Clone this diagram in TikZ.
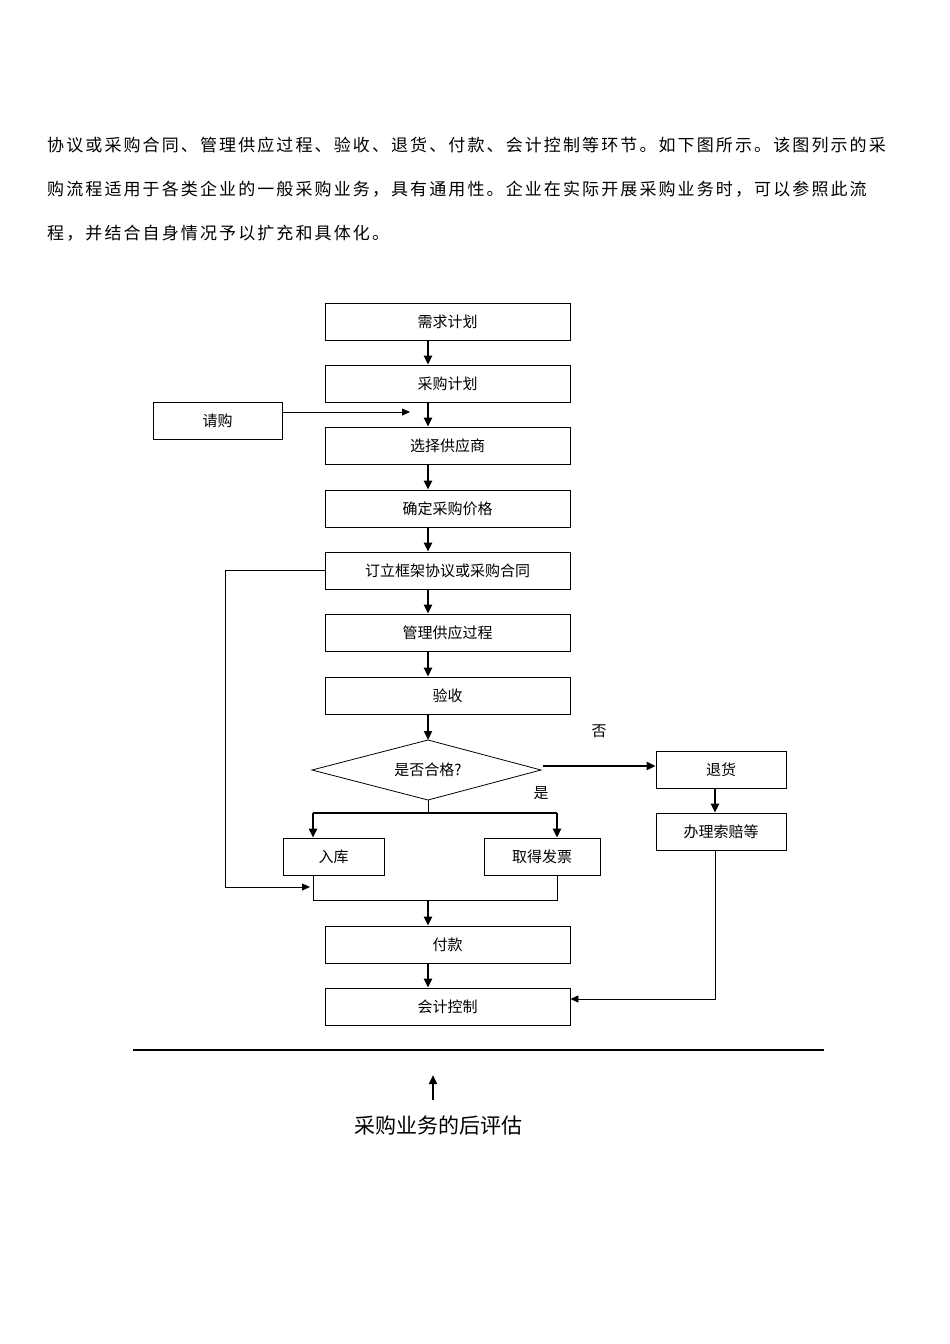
\documentclass[tikz,border=0pt]{standalone}
\usepackage{fontspec}
\newfontfamily\cjk{Noto Sans CJK SC}
\newfontfamily\cjksp[LetterSpace=12.4]{Noto Sans CJK SC}
\usetikzlibrary{arrows.meta}
\begin{document}
\begin{tikzpicture}[x=1pt,y=-1pt,font=\cjk\fontsize{15}{17}\selectfont,
  box/.style={draw,line width=0.8pt,inner sep=0pt},
  ar/.style={-{Triangle[length=9pt,width=8pt]},line width=2.2pt},
  thin/.style={line width=0.8pt},
  tar/.style={-{Triangle[length=8pt,width=7pt]},line width=0.8pt},
  para/.style={anchor=west,inner sep=0pt,font=\cjksp\fontsize{17}{19}\selectfont}]
\useasboundingbox (0,0) rectangle (950,1344);
\node[para] (p1) at (47,145) {协议或采购合同、管理供应过程、验收、退货、付款、会计控制等环节。如下图所示。该图列示的采};
\node[para] (p2) at (47,189) {购流程适用于各类企业的一般采购业务，具有通用性。企业在实际开展采购业务时，可以参照此流};
\node[para] (p3) at (47,233) {程，并结合自身情况予以扩充和具体化。};
\foreach \n/\t/\y in {a/需求计划/321.5,b/采购计划/383.5,c/选择供应商/445.5,d/确定采购价格/508.5,e/订立框架协议或采购合同/570.5,f/管理供应过程/632.5,g/验收/695.5,pay/付款/944.5,acc/会计控制/1006.5}
  \node[box,minimum width=245pt,minimum height=37pt] (\n) at (447.5,\y) {\t};
\node[box,minimum width=129pt,minimum height=37pt] (req) at (217.5,420.5) {请购};
\node[box,minimum width=130pt,minimum height=37pt] (ret) at (721,769.5) {退货};
\node[box,minimum width=130pt,minimum height=37pt] (clm) at (721,831.5) {办理索赔等};
\node[box,minimum width=101pt,minimum height=37pt] (in) at (333.5,856.5) {入库};
\node[box,minimum width=116pt,minimum height=37pt] (inv) at (542,856.5) {取得发票};
\coordinate (dL) at (312,770); \coordinate (dR) at (541,770);
\coordinate (dT) at (428,740); \coordinate (dB) at (428,800);
\draw[thin] (dL)--(dT)--(dR)--(dB)--cycle;
\node (dia) at (428,770) {是否合格?};
\foreach \u/\v in {a/b,b/c,c/d,d/e,e/f,f/g}
  \draw[ar] (\u.south -| 428,0) -- (\v.north -| 428,0);
\draw[ar] (g.south -| 428,0) -- (dT);
\draw[tar] (req.east |- 0,412) -- (410,412);
\draw[ar] (543,766) -- (ret.west |- 0,766);
\node (no) at (599,731) {否};
\node (yes) at (541,793) {是};
\draw[ar] (ret.south -| 715,0) -- (clm.north -| 715,0);
\coordinate (sp) at (428,813);
\draw[thin] (dB) -- (sp);
\draw[line width=1.2pt] (313,813) -- (557,813);
\draw[ar] (313,813) -- (in.north -| 313,0);
\draw[ar] (557,813) -- (inv.north -| 557,0);
\draw[thin] (in.south -| 313,0) -- (313,900) -- (557,900) -- (inv.south -| 557,0);
\draw[ar] (428,900) -- (pay.north -| 428,0);
\draw[ar] (pay.south -| 428,0) -- (acc.north -| 428,0);
\draw[tar] (e.west) -- (225,570.5) -- (225,887) -- (310,887);
\draw[tar] (clm.south -| 715,0) -- (715,999) -- (acc.east |- 0,999);
\coordinate (l1) at (133,1050); \coordinate (l2) at (824,1050);
\draw[line width=2.5pt] (l1) -- (l2);
\node[font=\cjk\fontsize{21}{24}\selectfont] (ev) at (438,1125) {采购业务的后评估};
\draw[ar] (433,1100) -- (433,1075);
\end{tikzpicture}
\end{document}
